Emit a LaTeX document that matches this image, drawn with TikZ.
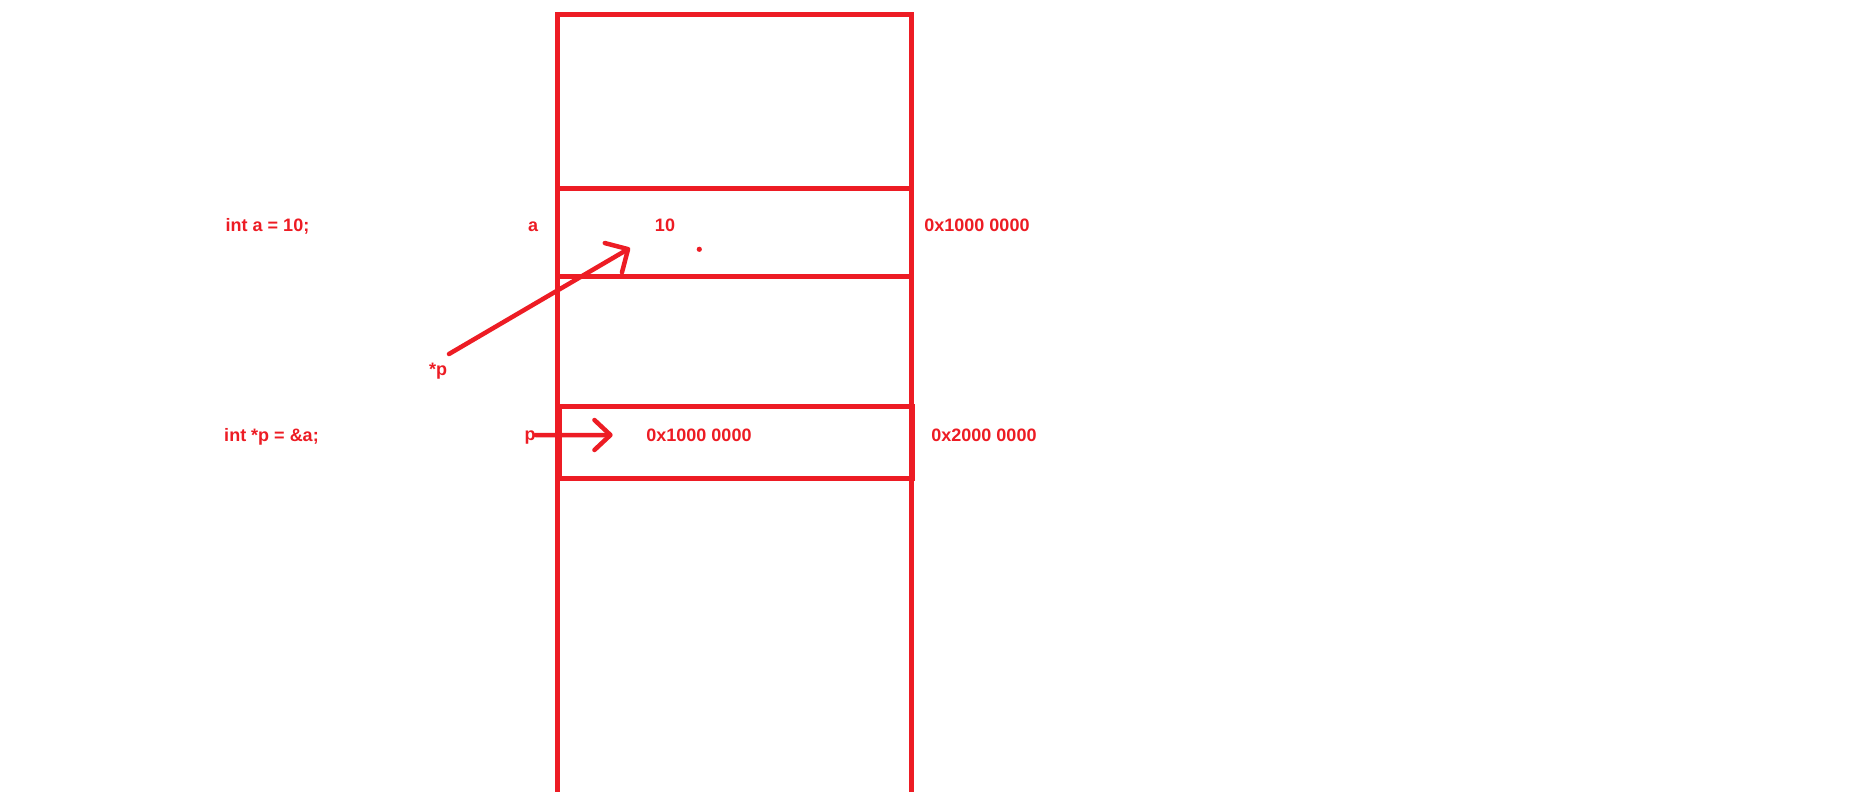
\documentclass[tikz,border=0pt]{standalone}
\usepackage{fontspec}
\setmainfont{Liberation Sans}
\usetikzlibrary{arrows.meta, positioning}
\definecolor{paintred}{RGB}{237,28,36}
\tikzset{
    cell/.style={rectangle, draw=paintred, line width=5pt, inner sep=0pt, outer sep=0pt, minimum width=353.5pt},
    lbl/.style={text=paintred, font=\bfseries\fontsize{18}{20}\selectfont, inner sep=0pt, anchor=base},
    ptr/.style={draw=paintred, line width=4.5pt, line cap=round, -{Straight Barb[round, length=17pt, width=34pt]}}
}
\begin{document}
\begin{tikzpicture}[x=1pt, y=-1pt]
    \useasboundingbox[fill=white] (0,0) rectangle (1861,792);
    % memory column
    \node (cellTop) [cell, minimum height=173.5pt] at (734.25,101.25) {};
    \node (cellA) [cell, minimum height=88pt, anchor=north] at (cellTop.south) {};
    \node (cellRest) [cell, minimum height=560pt, anchor=north] at (cellA.south) {};
    \node (cellP) [cell, minimum height=72.5pt] at (735.75,442.25) {};

    \node (decla) [lbl] at (267.5,231) {int a = 10;};
    \node (namea) [lbl] at (533,231) {a};
    \node (vala) [lbl] at (665,231) {10};
    \node (addra) [lbl] at (977,231.5) {0x1000 0000};
    \node (derefp) [lbl] at (438,375) {*p};
    \node (declp) [lbl] at (271.5,441) {int *p = \&a;};
    \node (namep) [lbl] at (530,440) {p};
    \node (valp) [lbl] at (699,441) {0x1000 0000};
    \node (addrp) [lbl] at (984,441.5) {0x2000 0000};
    \fill [paintred] (699.3,249.3) circle (2.6pt);

    \coordinate (ptail) at (449,354);
    \coordinate (ahead) at (630,248);
    \coordinate (phead) at (612.7,435);
    \draw [ptr] (ptail) -- (ahead);
    \draw [ptr, -{Straight Barb[round, length=16pt, width=30pt]}] ([yshift=2pt]namep.east) -- (phead);
\end{tikzpicture}
\end{document}
